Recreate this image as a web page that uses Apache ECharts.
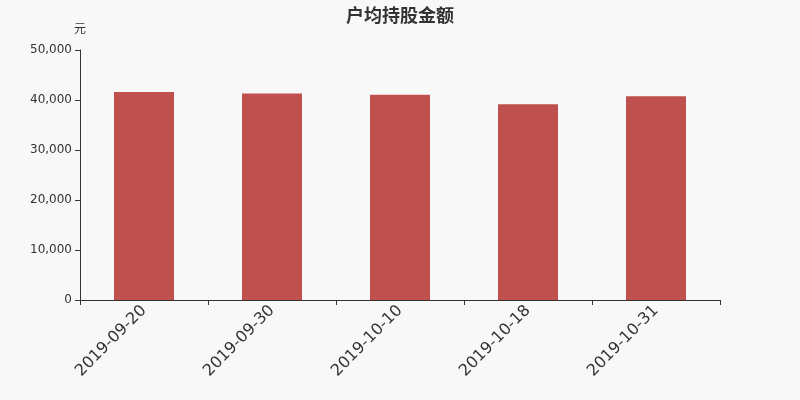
<!DOCTYPE html>
<html>
<head>
<meta charset="utf-8">
<script src="https://cdn.jsdelivr.net/npm/echarts@6/dist/echarts.min.js"></script>
<style>
  html, body { margin: 0; padding: 0; background: #f8f8f8; }
  #main { width: 800px; height: 400px; }
</style>
</head>
<body>
<div id="main"></div>
<script>
var dates = ['2019-09-20', '2019-09-30', '2019-10-10', '2019-10-18', '2019-10-31'];
var amounts = [41600, 41300, 41050, 39150, 40750];

var chart = echarts.init(document.getElementById('main'));

var option = {
  backgroundColor: '#f8f8f8',
  animation: false,
  textStyle: { fontFamily: 'DejaVu Sans' },
  title: {
    text: '户均持股金额',
    left: 'center',
    top: 1,
    textStyle: { fontSize: 18, fontWeight: 'bold', color: '#333', fontFamily: 'Noto Sans CJK SC' }
  },
  grid: { left: 80, right: 80, top: 50, bottom: 100 },
  xAxis: {
    type: 'category',
    data: dates,
    axisLine: { lineStyle: { color: '#333' } },
    axisTick: { show: true, length: 5, lineStyle: { color: '#333' } },
    axisLabel: { rotate: 45, fontSize: 16, color: '#333', interval: 0, margin: 8, fontFamily: 'DejaVu Sans' }
  },
  yAxis: {
    type: 'value',
    name: '元',
    nameGap: 16,
    nameTextStyle: { color: '#333', fontSize: 12, align: 'center', fontFamily: 'Noto Sans CJK SC' },
    min: 0,
    max: 50000,
    interval: 10000,
    axisLine: { show: true, lineStyle: { color: '#333' } },
    axisTick: { show: true, lineStyle: { color: '#333' } },
    axisLabel: { color: '#333', fontSize: 12, fontFamily: 'DejaVu Sans' },
    splitLine: { show: false }
  },
  series: [{
    type: 'bar',
    data: amounts,
    barWidth: 60,
    itemStyle: { color: '#c0504d' }
  }]
};

chart.setOption(option);
</script>
</body>
</html>
